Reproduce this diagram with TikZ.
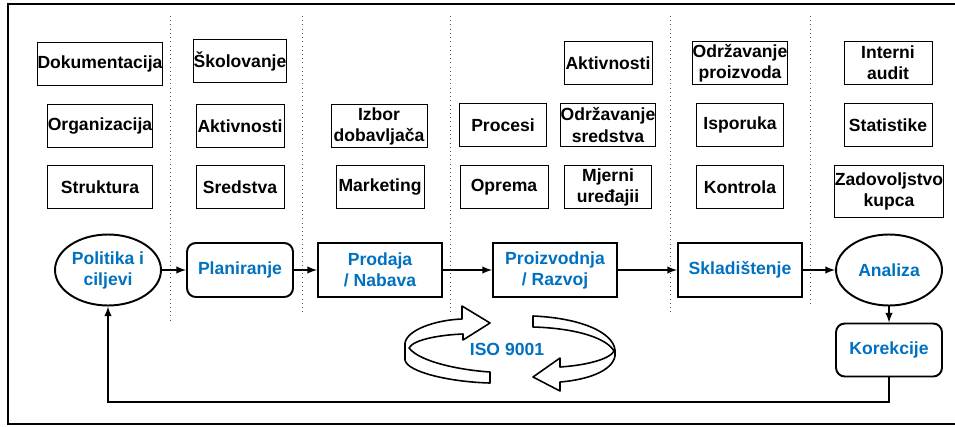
\documentclass[tikz,border=0pt]{standalone}
\usepackage{fontspec}
\setmainfont{Liberation Sans}
\usepackage{tikz}
\usetikzlibrary{shapes.geometric}

\definecolor{isoblue}{RGB}{0,112,192}

\begin{document}
\begin{tikzpicture}[x=0.02cm,y=-0.02cm,
  font=\fontsize{10}{12}\selectfont\bfseries,
  box/.style={shape=rectangle,draw=black,line width=0.5pt,align=center,inner sep=0pt,minimum height=0.86cm},
  step box/.style={shape=rectangle,draw=black,line width=1.1pt,align=center,inner sep=0pt,
    minimum width=2.48cm,minimum height=1.08cm,text=isoblue},
  round box/.style={step box,rounded corners=5pt,minimum width=2.12cm},
  oval/.style={shape=ellipse,draw=black,line width=1.1pt,align=center,inner sep=0pt,
    minimum width=2.12cm,minimum height=1.42cm,text=isoblue},
  arrow/.style={->,>=latex,line width=0.9pt},
  band/.style={draw=black,fill=white,line width=0.9pt,line join=round}]
\useasboundingbox (0,0) rectangle (955,426);
\draw[line width=1.4pt] (955,4) -- (8,4) -- (8,424) -- (955,424);

% separators
\foreach \x/\e in {170/323,302/313,450/313,670/313,810/304}
  \draw[dotted,gray!70!black,line width=0.4pt] (\x,16) -- (\x,\e);

% top boxes
\node[box,minimum width=2.46cm](Dok) at (100,64) {Dokumentacija};
\node[box,minimum width=2.1cm](Org) at (100,126) {Organizacija};
\node[box,minimum width=2.1cm](Str) at (100,187) {Struktura};
\node[box,minimum width=1.76cm](Sko) at (240,61) {Školovanje};
\node[box,minimum width=1.76cm](Akt) at (240,126) {Aktivnosti};
\node[box,minimum width=1.76cm](Sre) at (240,187) {Sredstva};
\node[box,minimum width=1.92cm](Izb) at (379,126) {Izbor\\dobavljača};
\node[box,minimum width=1.76cm](Mar) at (380,187) {Marketing};
\node[box,minimum width=1.74cm](Pro) at (503,125) {Procesi};
\node[box,minimum width=1.76cm](Opr) at (504,187) {Oprema};
\node[box,minimum width=1.76cm](Akt2) at (608,63) {Aktivnosti};
\node[box,minimum width=1.74cm](OdS) at (608,125) {Održavanje\\sredstva};
\node[box,minimum width=1.74cm](Mje) at (608,187) {Mjerni\\uređajii};
\node[box,minimum width=1.74cm](OdP) at (740,63) {Održavanje\\proizvoda};
\node[box,minimum width=1.74cm](Isp) at (740,125) {Isporuka};
\node[box,minimum width=1.74cm](Kon) at (740,187) {Kontrola};
\node[box,minimum width=1.76cm](Int) at (888,63) {Interni\\audit};
\node[box,minimum width=1.76cm](Sta) at (888,125) {Statistike};
\node[box,minimum width=2.14cm,minimum height=1.04cm](Zad) at (889,191) {Zadovoljstvo\\kupca};

% process row
\node[oval](Pol) at (108,270) {Politika i\\ciljevi};
\node[round box](Plan) at (240,270) {Planiranje};
\node[step box](Prod) at (380,270) {Prodaja\\/ Nabava};
\node[step box](Proi) at (555,270) {Proizvodnja\\/ Razvoj};
\node[step box](Skl) at (740,270) {Skladištenje};
\node[oval](Ana) at (889,270) {Analiza};
\node[round box,minimum height=1.06cm](Kor) at (889,350) {Korekcije};
\coordinate (back) at (108,402);

\draw[arrow] (Pol) -- (Plan);
\draw[arrow] (Plan) -- (Prod);
\draw[arrow] (Prod) -- (Proi);
\draw[arrow] (Proi) -- (Skl);
\draw[arrow] (Skl) -- (Ana);
\draw[arrow] (Ana) -- (Kor);
\draw[arrow] (Kor.south) |- (back) -- (Pol.south);

% ISO cycle
\draw[band] (405,343) .. controls (407,330) and (435,320) .. (462,319) -- (462,306) -- (490,323)
  -- (463,340) -- (463,334) .. controls (438,335) and (413,340) .. (409,348)
  .. controls (420,362) and (460,370) .. (490,372) -- (490,383)
  .. controls (450,382) and (407,372) .. (405,360) -- cycle;
\draw[band] (533,316) .. controls (580,318) and (613,332) .. (615,350) -- (615,356)
  .. controls (612,372) and (585,380) .. (560,382) -- (560,391) -- (533,377) -- (560,358) -- (560,367)
  .. controls (590,365) and (611,358) .. (614,351)
  .. controls (605,336) and (570,328) .. (533,327) -- cycle;
\node[text=isoblue](Iso) at (507,349) {ISO 9001};
\end{tikzpicture}
\end{document}
